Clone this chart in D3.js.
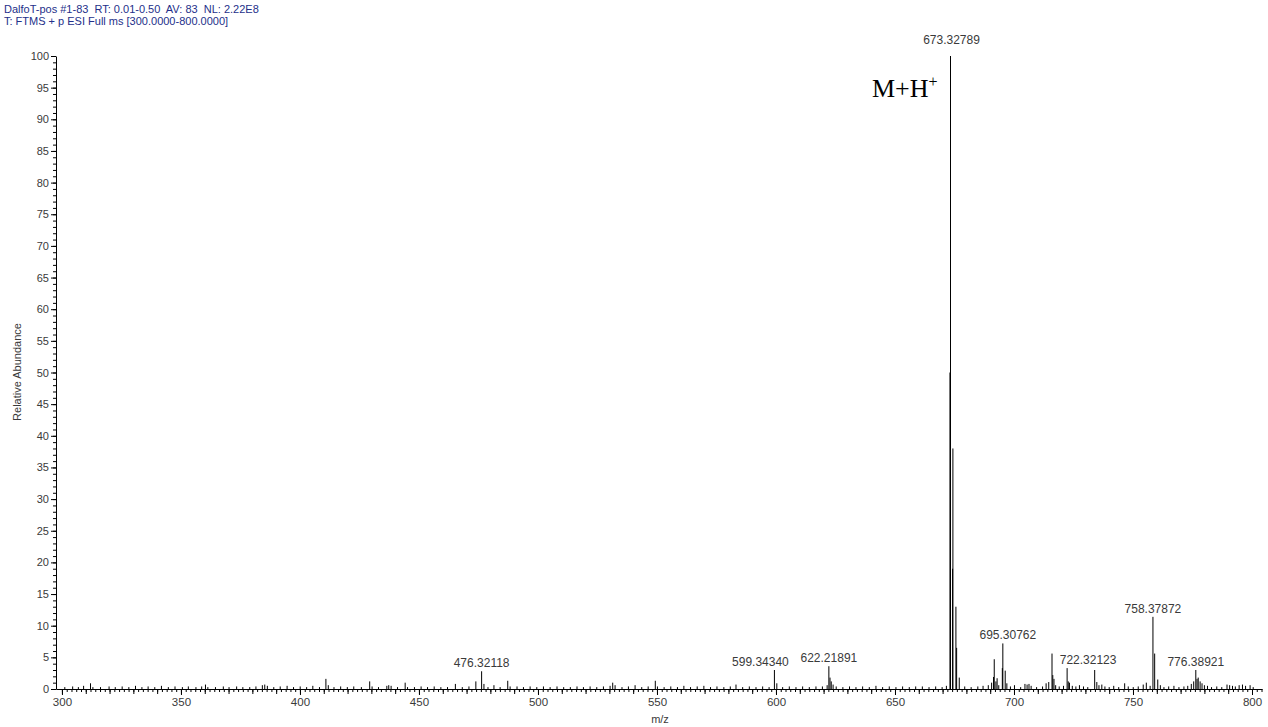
<!DOCTYPE html>
<html>
<head>
<meta charset="utf-8">
<script src="https://cdn.jsdelivr.net/npm/d3@7"></script>
<style>
  html, body { margin: 0; padding: 0; background: #fff; }
  svg { display: block; }
  .header { white-space: pre; }
</style>
</head>
<body>
<svg id="chart" width="1268" height="727"></svg>
<script>
// Spectrum header lines
const headerLines = [
  "DalfoT-pos #1-83  RT: 0.01-0.50  AV: 83  NL: 2.22E8",
  "T: FTMS + p ESI Full ms [300.0000-800.0000]"
];

// Centroid sticks: m/z and relative abundance (%)
const peakMz = [
  301.2, 304.5, 306.9, 309.1, 312.0, 313.0, 316.2, 319.8, 322.4, 325.3,
  328.1, 330.9, 333.6, 336.2, 339.0, 341.8, 344.7, 347.5, 350.6, 353.1,
  356.3, 358.7, 360.3, 361.3, 364.5, 367.8, 370.2, 373.4, 376.0, 378.9,
  381.5, 384.2, 385.2, 386.3, 389.0, 391.7, 394.6, 397.3, 400.1, 402.8,
  405.4, 408.2, 410.9, 411.9, 414.3, 417.1, 419.9, 422.6, 425.8, 429.3,
  430.3, 433.0, 436.5, 437.3, 438.3, 441.0, 444.2, 445.2, 448.1, 450.9,
  453.6, 456.4, 459.2, 462.0, 465.3, 468.2, 471.0, 473.9, 476.32, 477.3,
  479.0, 481.5, 484.1, 487.3, 488.3, 491.2, 493.9, 496.7, 499.5, 502.3,
  505.1, 508.0, 510.8, 513.6, 516.4, 519.1, 521.9, 524.7, 527.5, 530.3,
  531.4, 532.4, 535.3, 538.0, 540.8, 543.6, 546.3, 549.3, 550.2, 553.0,
  555.8, 558.6, 561.3, 564.1, 566.9, 569.7, 572.5, 575.2, 578.1, 580.8,
  583.2, 586.0, 588.8, 591.6, 594.4, 597.1, 599.34, 600.35, 602.8, 605.6,
  608.4, 611.2, 614.0, 616.8, 619.5, 621.5, 622.22, 622.7, 623.22, 624.0,
  625.3, 628.1, 630.9, 633.6, 636.4, 639.2, 642.0, 644.8, 647.6, 650.4,
  653.2, 656.0, 658.7, 661.5, 664.3, 667.1, 669.8, 671.6, 673.1, 673.33,
  674.2, 674.33, 675.6, 675.9, 677.0, 679.3, 682.0, 684.8, 687.0, 689.2,
  690.6, 691.4, 691.7, 692.4, 692.9, 693.6, 695.1, 695.31, 696.31, 697.0,
  698.5, 700.2, 702.8, 704.6, 705.5, 706.3, 707.2, 709.5, 712.0, 713.5,
  714.6, 715.97, 716.3, 716.8, 717.5, 719.0, 720.8, 722.32, 722.8, 723.3,
  724.5, 726.0, 727.5, 729.2, 731.0, 733.9, 734.8, 735.7, 736.9, 738.2,
  740.0, 741.9, 744.0, 746.5, 748.0, 750.1, 752.2, 754.3, 755.6, 757.2,
  758.38, 759.1, 760.4, 761.5, 763.0, 765.0, 767.2, 769.3, 771.4, 773.0,
  774.5, 775.5, 776.39, 776.9, 777.4, 778.2, 779.0, 780.0, 781.3, 783.0,
  785.2, 787.3, 789.5, 790.6, 791.8, 793.0, 794.6, 796.0, 797.3, 799.2,
  800.5
];
const peakAbundance = [
  0.3, 0.4, 0.3, 0.5, 0.9, 0.3, 0.3, 0.4, 0.3, 0.4,
  0.3, 0.5, 0.3, 0.4, 0.3, 0.5, 0.3, 0.4, 0.3, 0.4,
  0.3, 0.4, 0.7, 0.3, 0.3, 0.4, 0.3, 0.4, 0.3, 0.3,
  0.4, 0.6, 0.7, 0.5, 0.3, 0.4, 0.5, 0.3, 0.4, 0.3,
  0.5, 0.3, 1.6, 0.6, 0.3, 0.4, 0.3, 0.4, 0.3, 1.2,
  0.4, 0.3, 0.5, 0.6, 0.5, 0.3, 1.0, 0.3, 0.3, 0.4,
  0.3, 0.4, 0.3, 0.3, 0.8, 0.3, 0.4, 1.2, 2.8, 0.8,
  0.3, 0.6, 0.3, 1.3, 0.4, 0.4, 0.3, 0.4, 0.3, 0.4,
  0.3, 0.4, 0.3, 0.3, 0.4, 0.3, 0.4, 0.3, 0.4, 0.5,
  1.0, 0.6, 0.3, 0.4, 0.6, 0.3, 0.4, 1.3, 0.4, 0.3,
  0.4, 0.3, 0.5, 0.3, 0.4, 0.5, 0.3, 0.4, 0.3, 0.4,
  0.7, 0.3, 0.4, 0.3, 0.4, 0.3, 3.0, 0.9, 0.3, 0.4,
  0.3, 0.4, 0.3, 0.4, 0.4, 0.6, 3.6, 1.8, 1.2, 0.7,
  0.4, 0.3, 0.4, 0.3, 0.4, 0.3, 0.5, 0.3, 0.4, 0.3,
  0.4, 0.3, 0.4, 0.4, 0.3, 0.4, 0.3, 0.5, 50.0, 100.0,
  19.0, 38.0, 13.0, 6.5, 1.8, 0.4, 0.3, 0.4, 0.5, 0.6,
  1.0, 1.9, 4.7, 1.2, 1.7, 0.6, 3.3, 7.2, 2.9, 0.9,
  0.4, 0.6, 0.3, 0.8, 0.7, 0.8, 0.5, 0.3, 0.4, 0.9,
  1.1, 5.6, 2.2, 1.6, 0.6, 0.4, 0.5, 3.3, 1.2, 1.0,
  0.5, 0.4, 0.6, 0.4, 0.3, 3.0, 1.1, 0.6, 0.7, 0.4,
  0.3, 0.5, 0.3, 0.9, 0.4, 0.3, 0.4, 0.7, 1.0, 0.5,
  11.4, 5.6, 1.5, 0.6, 0.3, 0.4, 0.5, 0.3, 0.4, 0.5,
  0.8, 1.2, 3.0, 1.6, 1.8, 1.2, 0.9, 0.6, 0.5, 0.3,
  0.4, 0.3, 0.7, 0.6, 0.5, 0.4, 0.6, 0.7, 0.5, 0.6,
  0.3
];

// Annotated peaks
const labelMz = [476.32, 599.34, 622.22, 673.33, 695.31, 722.32, 758.38, 776.39];
const labelText = ["476.32118", "599.34340", "622.21891", "673.32789",
                   "695.30762", "722.32123", "758.37872", "776.38921"];

// Axis ticks
const yTickValues = d3.range(0, 101, 5);
const xTickValues = d3.range(300, 801, 50);

const svg = d3.select("#chart");

const x = d3.scaleLinear().domain([297.5, 804.2]).range([56, 1262]);
const y = d3.scaleLinear().domain([0, 100]).range([689, 56]);

const axisColor = "#000";
const textColor = "#3a3a3a";
const font = "'Liberation Sans', Arial, sans-serif";

// Header
svg.selectAll("text.header")
  .data(headerLines)
  .enter().append("text")
  .attr("class", "header")
  .attr("x", 4)
  .attr("y", (d, i) => 13 + i * 11.5)
  .attr("font-family", font)
  .attr("font-size", 11)
  .attr("fill", "#24308a")
  .text(d => d);

// Y axis: minor then major ticks
const yMinor = svg.append("g").attr("transform", "translate(56,0)")
  .call(d3.axisLeft(y).tickValues(d3.range(0, 101, 1)).tickSize(3).tickFormat(""));
yMinor.select(".domain").remove();

const yAxis = svg.append("g").attr("transform", "translate(56,0)")
  .call(d3.axisLeft(y).tickValues(yTickValues).tickSize(5).tickSizeOuter(0).tickPadding(2));
yAxis.select(".domain").attr("stroke", axisColor);
yAxis.selectAll("text").attr("font-family", font).attr("font-size", 11).attr("fill", textColor);

// X axis: minor, medium and major ticks
const xMinor = svg.append("g").attr("transform", "translate(0,689)")
  .call(d3.axisBottom(x).tickValues(d3.range(300, 805, 2)).tickSize(3).tickFormat(""));
xMinor.select(".domain").remove();

const xMid = svg.append("g").attr("transform", "translate(0,689)")
  .call(d3.axisBottom(x).tickValues(d3.range(300, 805, 10)).tickSize(5).tickFormat(""));
xMid.select(".domain").remove();

const xAxis = svg.append("g").attr("transform", "translate(0,689)")
  .call(d3.axisBottom(x).tickValues(xTickValues).tickSize(6).tickSizeOuter(0).tickPadding(3));
xAxis.select(".domain").attr("stroke", axisColor);
xAxis.selectAll("text").attr("font-family", font).attr("font-size", 11.5).attr("fill", textColor);

svg.selectAll(".tick line").attr("stroke", axisColor);

// Axis titles
svg.append("text")
  .attr("transform", "translate(21,372) rotate(-90)")
  .attr("text-anchor", "middle")
  .attr("font-family", font)
  .attr("font-size", 11)
  .attr("fill", textColor)
  .text("Relative Abundance");

svg.append("text")
  .attr("x", 660).attr("y", 723)
  .attr("text-anchor", "middle")
  .attr("font-family", font)
  .attr("font-size", 11)
  .attr("fill", textColor)
  .text("m/z");

// Sticks
const peaks = peakMz.map((m, i) => ({ mz: m, ab: peakAbundance[i] }));
svg.append("g").selectAll("line")
  .data(peaks)
  .enter().append("line")
  .attr("x1", d => x(d.mz)).attr("x2", d => x(d.mz))
  .attr("y1", y(0)).attr("y2", d => y(d.ab))
  .attr("stroke", "#000")
  .attr("stroke-width", 1);

// Peak annotations, nudged sideways where neighbours would collide
const labelNudge = { "599.34340": -14, "695.30762": 5, "722.32123": 21, "673.32789": 1 };
const labels = labelMz.map((m, i) => {
  const k = peakMz.indexOf(m);
  return { mz: m, ab: peakAbundance[k], text: labelText[i] };
});
svg.append("g").selectAll("text")
  .data(labels)
  .enter().append("text")
  .attr("x", d => x(d.mz) + (labelNudge[d.text] || 0))
  .attr("y", d => y(d.ab) - (d.ab >= 100 ? 12 : 4))
  .attr("text-anchor", "middle")
  .attr("font-family", font)
  .attr("font-size", 12)
  .attr("fill", textColor)
  .text(d => d.text);

// Molecular ion tag
const ion = svg.append("text")
  .attr("x", 872).attr("y", 97)
  .attr("font-family", "'Liberation Serif', 'Times New Roman', serif")
  .attr("font-size", 26)
  .attr("fill", "#000");
ion.append("tspan").text("M+H");
ion.append("tspan").attr("dy", -10).attr("font-size", 16).text("+");
</script>
</body>
</html>
